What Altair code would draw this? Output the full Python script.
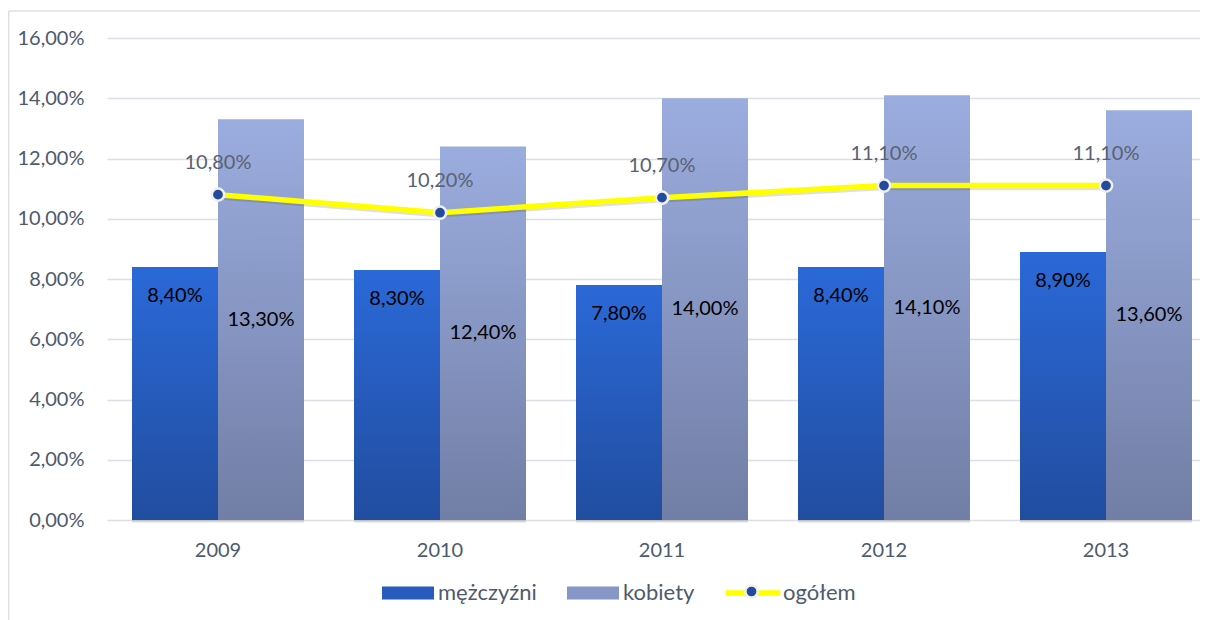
import altair as alt
import pandas as pd

years = ["2009", "2010", "2011", "2012", "2013"]
men = [8.4, 8.3, 7.8, 8.4, 8.9]
women = [13.3, 12.4, 14.0, 14.1, 13.6]
total = [10.8, 10.2, 10.7, 11.1, 11.1]
series_names = ["mężczyźni", "kobiety", "ogółem"]
y_ticks = [0, 0.02, 0.04, 0.06, 0.08, 0.10, 0.12, 0.14, 0.16]

FONT = "Lato"
AXIS_COLOR = "#4E5A6D"


def pl(v):
    return f"{v:.2f}".replace(".", ",") + "%"


bars_df = pd.DataFrame({
    "year": years * 2,
    "series": [series_names[0]] * 5 + [series_names[1]] * 5,
    "value": [v / 100 for v in men] + [v / 100 for v in women],
    "label": [pl(v) for v in men] + [pl(v) for v in women],
})
total_df = pd.DataFrame({
    "year": years,
    "value": [v / 100 for v in total],
    "label": [pl(v) for v in total],
})
legend_df = pd.DataFrame({"series": series_names})
dot_df = pd.DataFrame({"dot": [series_names[2]]})
frame_df = pd.DataFrame({"a": [0]})

men_grad = alt.Gradient(
    gradient="linear",
    stops=[alt.GradientStop(color="#2B69D8", offset=0),
           alt.GradientStop(color="#214D9F", offset=1)],
    x1=0, x2=0, y1=0, y2=1,
)
women_grad = alt.Gradient(
    gradient="linear",
    stops=[alt.GradientStop(color="#9BADDF", offset=0),
           alt.GradientStop(color="#717EA5", offset=1)],
    x1=0, x2=0, y1=0, y2=1,
)

x_enc = alt.X("year:N", sort=years,
              scale=alt.Scale(paddingInner=0, paddingOuter=0),
              axis=alt.Axis(title=None, domain=False, ticks=False, labelAngle=0,
                            labelPadding=20, labelFont=FONT, labelFontSize=20,
                            labelColor=AXIS_COLOR, grid=False))
y_enc = alt.Y("value:Q",
              scale=alt.Scale(domain=[0, 0.16], nice=False),
              axis=alt.Axis(title=None, values=y_ticks, domain=False, ticks=False,
                            labelExpr="replace(format(datum.value, '.2%'), '.', ',')",
                            labelPadding=23, labelFont=FONT, labelFontSize=20,
                            labelColor=AXIS_COLOR, grid=True, gridColor="#DCE0E6",
                            gridWidth=1.4))
xoff = alt.XOffset("series:N", sort=series_names[:2],
                   scale=alt.Scale(domain=series_names[:2], paddingInner=0, paddingOuter=0.2907))

base_bars = alt.Chart(bars_df)

shadow_bars = base_bars.mark_bar(
    color="#000000", opacity=0.13, xOffset=2.5, yOffset=2.5
).encode(x=x_enc, y=y_enc, xOffset=xoff)

men_bars = base_bars.transform_filter(
    alt.datum.series == series_names[0]
).mark_bar(color=men_grad).encode(x=x_enc, y=y_enc, xOffset=xoff)

women_bars = base_bars.transform_filter(
    alt.datum.series == series_names[1]
).mark_bar(color=women_grad).encode(x=x_enc, y=y_enc, xOffset=xoff)

men_labels = base_bars.transform_filter(
    alt.datum.series == series_names[0]
).mark_text(font=FONT, fontSize=20, color="#000000", baseline="middle", dy=29).encode(
    x=x_enc, y=y_enc, xOffset=xoff, text="label:N")

women_labels = base_bars.transform_filter(
    alt.datum.series == series_names[1]
).transform_calculate(mid="datum.value / 2").mark_text(
    font=FONT, fontSize=20, color="#000000", baseline="middle").encode(
    x=x_enc, y=alt.Y("mid:Q", scale=alt.Scale(domain=[0, 0.16], nice=False)),
    xOffset=xoff, text="label:N")

line_shadow = alt.Chart(total_df).mark_line(
    color="#000000", strokeWidth=5.5, opacity=0.12, yOffset=2).encode(x=x_enc, y=y_enc)
line = alt.Chart(total_df).mark_line(color="#FFFF00", strokeWidth=5.5).encode(x=x_enc, y=y_enc)
points = alt.Chart(total_df).mark_circle(
    size=150, fill="#234A9C", stroke="#F0F0F0", strokeWidth=2.5, opacity=1
).encode(x=x_enc, y=y_enc)
line_labels = alt.Chart(total_df).mark_text(
    font=FONT, fontSize=20, color="#5A6272", baseline="middle", dy=-32
).encode(x=x_enc, y=y_enc, text="label:N")

rect_path = "M-1,-0.25H1V0.25H-1Z"
line_path = "M-1.05,-0.11H1.05V0.11H-1.05Z"

legend_main = alt.Legend(
    title=None, orient="none", legendX=275, legendY=529, direction="horizontal",
    symbolSize=2704, labelOffset=4, columnPadding=30, padding=0,
    labelFont=FONT, labelFontSize=22, labelColor=AXIS_COLOR, symbolStrokeWidth=0,
    symbolOpacity=1,
)

legend_layer = alt.Chart(legend_df).transform_filter("false").mark_point(
    filled=True, opacity=1).encode(
    color=alt.Color("series:N", scale=alt.Scale(domain=series_names,
                                                range=["#275BBD", "#8696C6", "#FFFF00"]),
                    legend=legend_main),
    shape=alt.Shape("series:N", scale=alt.Scale(domain=series_names,
                                                range=[rect_path, rect_path, line_path]),
                    legend=legend_main),
)

dot_legend = alt.Legend(
    title=None, orient="none", legendX=637, legendY=546, padding=0,
    labelExpr="''", labelFontSize=2, symbolType="circle", symbolOpacity=1,
    symbolSize=150, symbolStrokeColor="#F0F0F0", symbolStrokeWidth=2.5,
)
dot_layer = alt.Chart(dot_df).transform_filter("false").mark_circle(
    opacity=1, stroke="#F0F0F0", strokeWidth=2.5).encode(
    fill=alt.Fill("dot:N", scale=alt.Scale(domain=[series_names[2]], range=["#234A9C"]),
                  legend=dot_legend),
)

frame_left = alt.Chart(frame_df).mark_rule(color="#DCE0E7", strokeWidth=1.5).encode(
    x=alt.value(-98.3), y=alt.value(-27), y2=alt.value(620))
frame_top = alt.Chart(frame_df).mark_rule(color="#DCE0E7", strokeWidth=1.5).encode(
    x=alt.value(-98.3), x2=alt.value(1200), y=alt.value(-27))

chart = alt.layer(
    frame_left, frame_top,
    shadow_bars, men_bars, women_bars, men_labels, women_labels,
    line_shadow, line, points, line_labels,
    legend_layer, dot_layer,
).properties(
    width=1110, height=482,
    padding={"left": 99, "top": 30, "right": -17, "bottom": 100},
    autosize=alt.AutoSizeParams(type="none"),
).configure_view(stroke=None)

chart.save("out.html", embed_options={"renderer": "svg", "actions": False})
